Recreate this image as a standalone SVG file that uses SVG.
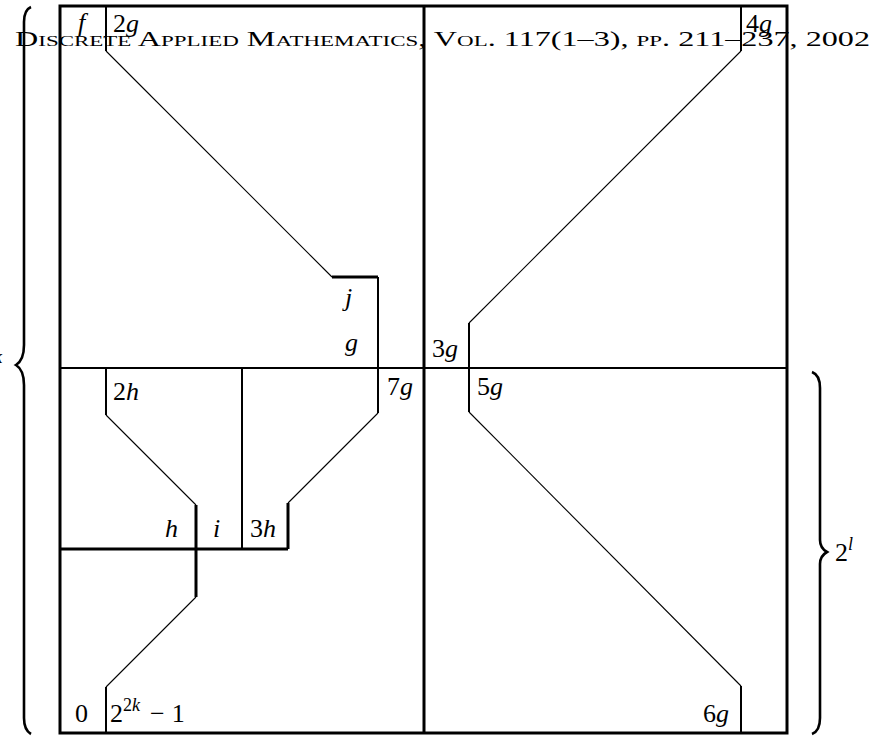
<svg xmlns="http://www.w3.org/2000/svg" width="877" height="738" viewBox="0 0 877 738">
<style>
.t{font-family:"Liberation Serif","DejaVu Serif",serif;font-size:26px;font-style:italic;fill:#000}
.n{font-style:normal}
.title{font-family:"Liberation Serif","DejaVu Serif",serif;font-size:21px;font-variant:small-caps;fill:#000}
.thin{stroke:#000;stroke-width:1.1;fill:none}
.med{stroke:#000;stroke-width:2;fill:none}
.thick{stroke:#000;stroke-width:3;fill:none}
.brace{stroke:#000;stroke-width:2.6;fill:none}
</style>
<rect width="877" height="738" fill="#fff"/>
<g id="connectors">
<rect x="60" y="6" width="727" height="727" class="thick"/>
<line x1="424" y1="6" x2="424" y2="733" class="thick"/>
<line x1="60" y1="368" x2="787" y2="368" class="med"/>
<line x1="60" y1="549" x2="288" y2="549" class="thick"/>
<line x1="106" y1="6" x2="106" y2="51" class="med"/>
<polyline points="106,51 332,277" class="thin"/>
<polyline points="332,277 378,277" class="thick"/>
<line x1="378" y1="277" x2="378" y2="368" class="med"/>
<line x1="741" y1="6" x2="741" y2="51" class="med"/>
<polyline points="741,51 469,323" class="thin"/>
<line x1="469" y1="323" x2="469" y2="412" class="med"/>
<polyline points="469,412 741,686" class="thin"/>
<line x1="741" y1="686" x2="741" y2="733" class="med"/>
<line x1="378" y1="368" x2="378" y2="413" class="med"/>
<polyline points="378,413 288,503" class="thin"/>
<line x1="288" y1="503" x2="288" y2="549" class="thick"/>
<line x1="106" y1="368" x2="106" y2="415" class="med"/>
<polyline points="106,415 196,505" class="thin"/>
<line x1="196" y1="505" x2="196" y2="597" class="thick"/>
<polyline points="196,597 106,687" class="thin"/>
<line x1="106" y1="687" x2="106" y2="733" class="med"/>
<line x1="242" y1="368" x2="242" y2="549" class="med"/>
<path class="brace" d="M31,7 Q24,10 24,22 V345 Q24,360 16,365 Q24,370 24,385 V718 Q24,730 31,734"/>
<path class="brace" d="M812,372 Q820,375 820,388 V540 Q820,548 827,552 Q820,556 820,564 V718 Q820,731 812,734"/>
</g>
<g id="title"><text class="title" x="15" y="46" textLength="855" lengthAdjust="spacingAndGlyphs">Discrete Applied Mathematics, Vol. 117(1–3), pp. 211–237, 2002</text></g>
<g id="labels">
<text class="t" x="78" y="31">f</text>
<text class="t" x="113" y="32"><tspan class="n">2</tspan>g</text>
<text class="t" x="746" y="32"><tspan class="n">4</tspan>g</text>
<text class="t" x="345" y="306">j</text>
<text class="t" x="345" y="351">g</text>
<text class="t" x="432" y="357"><tspan class="n">3</tspan>g</text>
<text class="t" x="113" y="400"><tspan class="n">2</tspan>h</text>
<text class="t" x="387" y="395"><tspan class="n">7</tspan>g</text>
<text class="t" x="477" y="395"><tspan class="n">5</tspan>g</text>
<text class="t" x="165" y="537">h</text>
<text class="t" x="213" y="537">i</text>
<text class="t" x="250" y="537"><tspan class="n">3</tspan>h</text>
<text class="t n" x="75" y="722">0</text>
<text class="t" x="110" y="722"><tspan class="n">2</tspan><tspan class="n" font-size="18" dy="-11">2</tspan><tspan font-size="18">k</tspan><tspan class="n" dy="11" dx="10">−</tspan><tspan class="n" dx="7">1</tspan></text>
<text class="t" x="703" y="722"><tspan class="n">6</tspan>g</text>
<text class="t" x="835" y="561"><tspan class="n">2</tspan><tspan font-size="18" dy="-11">l</tspan></text>
<text class="t" x="-19" y="374"><tspan class="n">2</tspan><tspan font-size="18" dy="-11">k</tspan></text>
</g>
</svg>
